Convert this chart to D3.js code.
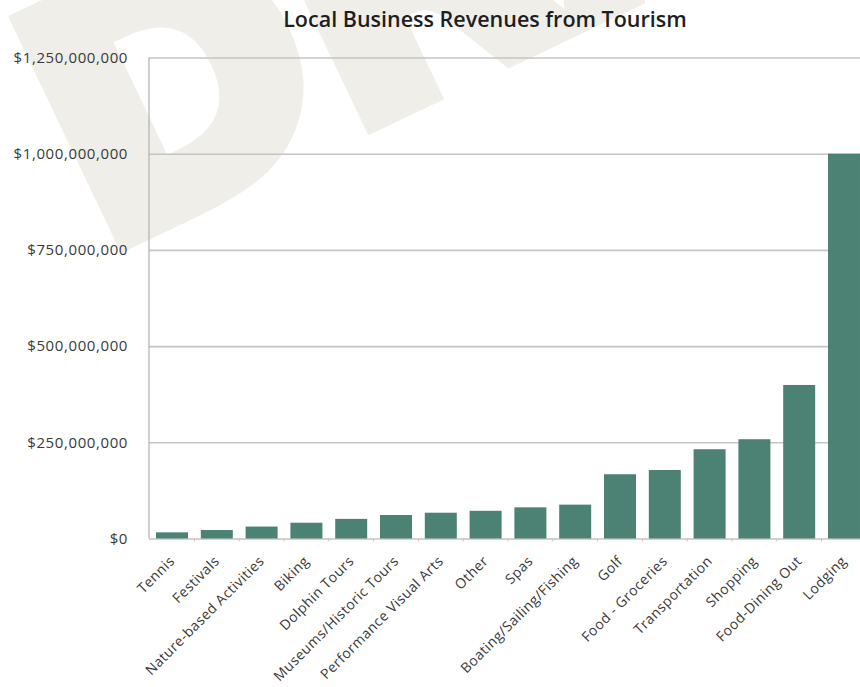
<!DOCTYPE html>
<html>
<head>
<meta charset="utf-8">
<script src="https://cdn.jsdelivr.net/npm/d3@7"></script>
<style>
  html, body { margin: 0; padding: 0; background: #fff; }
  svg { display: block; }
</style>
</head>
<body>
<svg id="chart" width="860" height="687"></svg>
<script>
// Revenue by tourism-related business category (USD)
const categories = [
  "Tennis", "Festivals", "Nature-based Activities", "Biking", "Dolphin Tours",
  "Museums/Historic Tours", "Performance Visual Arts", "Other", "Spas",
  "Boating/Sailing/Fishing", "Golf", "Food - Groceries", "Transportation",
  "Shopping", "Food-Dining Out", "Lodging"
];
const revenues = [
  16e6, 22e6, 31e6, 41e6, 51e6,
  61e6, 67e6, 72e6, 81e6,
  88e6, 167e6, 178e6, 232e6,
  258e6, 399e6, 1000e6
];
const yTicks = [0, 250e6, 500e6, 750e6, 1000e6, 1250e6];
const chartTitle = "Local Business Revenues from Tourism";
const watermarkText = "DRAFT";

const svg = d3.select("#chart");
const plotLeft = 149, plotRight = 860, plotTop = 57.5, plotBottom = 538.5;
const fontFamily = "'Open Sans', Lato, sans-serif";

// Watermark behind the chart
svg.append("text")
  .attr("transform", "translate(117,243) rotate(-25.5)")
  .attr("x", -20)
  .attr("y", 0)
  .attr("font-family", "'DejaVu Sans', sans-serif")
  .attr("font-weight", "bold")
  .attr("font-size", 330)
  .attr("fill", "#efeee9")
  .attr("stroke", "#efeee9")
  .attr("stroke-width", 22)
  .attr("stroke-linejoin", "miter")
  .text(watermarkText);

const x = d3.scaleBand()
  .domain(categories)
  .range([149.3, 866.7])
  .paddingInner(0.286)
  .paddingOuter(0.15);

const y = d3.scaleLinear()
  .domain([0, 1250e6])
  .range([plotBottom, plotTop]);

// Horizontal gridlines
const grid = svg.append("g")
  .attr("transform", `translate(${plotLeft},0)`)
  .call(d3.axisLeft(y).tickValues(yTicks).tickSize(-(plotRight - plotLeft)).tickFormat(""));
grid.select(".domain").remove();
grid.selectAll(".tick line")
  .attr("stroke", "#c4c4c4")
  .attr("stroke-width", 1.6);

// Vertical axis line
svg.append("line")
  .attr("x1", plotLeft).attr("x2", plotLeft)
  .attr("y1", plotTop).attr("y2", plotBottom)
  .attr("stroke", "#b0b0b0")
  .attr("stroke-width", 1.2);

// Y axis labels
const yAxis = svg.append("g")
  .attr("transform", `translate(${plotLeft - 21},0)`)
  .call(d3.axisLeft(y).tickValues(yTicks).tickSize(0)
    .tickFormat(d => "$" + d3.format(",")(d)));
yAxis.select(".domain").remove();
yAxis.selectAll("text")
  .attr("font-family", fontFamily)
  .attr("font-size", 15)
  .attr("letter-spacing", 0.6)
  .attr("fill", "#3a3a3a")
  .attr("x", 0);

// Small ticks between bars on the baseline
const step = x.step();
svg.append("g")
  .selectAll("line")
  .data(categories.slice(1))
  .join("line")
  .attr("x1", d => x(d) - (step - x.bandwidth()) / 2)
  .attr("x2", d => x(d) - (step - x.bandwidth()) / 2)
  .attr("y1", plotBottom)
  .attr("y2", plotBottom + 3)
  .attr("stroke", "#e4b4b4")
  .attr("stroke-width", 1);

// Bars
svg.append("g")
  .selectAll("rect")
  .data(categories)
  .join("rect")
  .attr("x", d => x(d))
  .attr("width", x.bandwidth())
  .attr("y", (d, i) => y(revenues[i]))
  .attr("height", (d, i) => y(0) - y(revenues[i]))
  .attr("fill", "#4b8273");

// X axis labels, rotated
const xAxis = svg.append("g")
  .attr("transform", `translate(0,${plotBottom + 6})`)
  .call(d3.axisBottom(x).tickSize(0).tickPadding(0));
xAxis.select(".domain").remove();
xAxis.selectAll("text")
  .attr("font-family", fontFamily)
  .attr("font-size", 14)
  .attr("letter-spacing", 0.45)
  .attr("fill", "#3a3a3a")
  .attr("text-anchor", "end")
  .attr("dy", "0.35em")
  .attr("transform", "translate(0,14) rotate(-45)");

// Title
svg.append("text")
  .attr("x", 485)
  .attr("y", 27)
  .attr("text-anchor", "middle")
  .attr("font-family", fontFamily)
  .attr("font-weight", 600)
  .attr("font-size", 21.5)
  .attr("fill", "#1e1e1e")
  .text(chartTitle);
</script>
</body>
</html>
